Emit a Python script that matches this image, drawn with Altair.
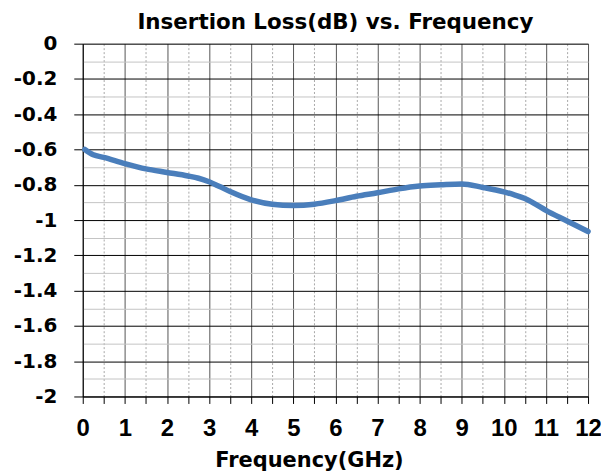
import altair as alt
import pandas as pd

freq = [0.05, 0.25, 0.5, 1.0, 1.5, 2.0, 2.5, 2.75, 3.0, 3.25, 3.5, 4.0, 4.5, 5.0, 5.5,
        6.0, 6.5, 7.0, 7.5, 8.0, 8.5, 9.0, 9.5, 10.0, 10.25, 10.5, 10.75, 11.0, 11.5, 12.0]
loss = [-0.60, -0.63, -0.645, -0.68, -0.71, -0.73, -0.75, -0.763, -0.783, -0.81, -0.838,
        -0.885, -0.91, -0.917, -0.91, -0.89, -0.865, -0.845, -0.823, -0.807,
        -0.80, -0.795, -0.815, -0.84, -0.857, -0.878, -0.91, -0.945, -1.005, -1.065]

x_ticks = [i * 0.5 for i in range(25)]
y_ticks = [round(-i * 0.1, 1) + 0.0 for i in range(21)]

df = pd.DataFrame({"freq": freq, "loss": loss})

x_major = "abs(round(datum.value * 2)) % 2 == 0"
y_major = "abs(round(datum.value * 10)) % 2 == 0"

x_axis = alt.Axis(
    values=x_ticks,
    labelExpr=f"{x_major} ? format(datum.value, 'd') : ''",
    labelFont="Liberation Sans", labelFontSize=24, labelFontWeight="bold",
    labelColor="black", labelPadding=13, labelAngle=0,
    labelFlush=False, labelOverlap=False,
    tickSize=7, tickColor="black", tickWidth=1,
    domainColor="black", domainWidth=1,
    grid=True,
    gridColor={"condition": {"test": x_major, "value": "#555555"}, "value": "#a8a8a8"},
    gridDash={"condition": {"test": x_major, "value": []}, "value": [2, 2]},
    gridWidth=1,
    title="Frequency(GHz)",
    titleFont="DejaVu Sans", titleFontSize=21, titleFontWeight="bold",
    titleColor="black", titleX=227, titleY=70, titleAlign="center",
    titleBaseline="alphabetic",
)

y_axis = alt.Axis(
    values=y_ticks,
    labelExpr=f"{y_major} ? replace(format(datum.value, '~g'), '\u2212', '-') : ''",
    labelFont="DejaVu Sans", labelFontSize=20, labelFontWeight="bold",
    labelColor="black", labelPadding=17,
    labelFlush=False, labelOverlap=False,
    tickSize=9, tickColor="black", tickWidth=1,
    tickOpacity={"condition": {"test": y_major, "value": 1}, "value": 0},
    domainColor="black", domainWidth=1,
    grid=True,
    gridColor={"condition": {"test": y_major, "value": "#000000"}, "value": "#c4c4c4"},
    gridWidth=1,
    title=None,
)

line = alt.Chart(df).mark_line(
    color="#4a7ebb", strokeWidth=5.5, strokeCap="round", interpolate="monotone"
).encode(
    x=alt.X("freq:Q", scale=alt.Scale(domain=[0, 12], nice=False, zero=False), axis=x_axis),
    y=alt.Y("loss:Q", scale=alt.Scale(domain=[-2, 0], nice=False, zero=False), axis=y_axis),
)

chart = line.properties(
    width=507,
    height=354,
    title=alt.TitleParams(
        "Insertion Loss(dB) vs. Frequency",
        font="DejaVu Sans", fontSize=21.5, fontWeight="bold", color="black",
        anchor="middle", offset=0,
    ),
    autosize=alt.AutoSizeParams(type="none"),
    padding={"left": 75, "top": 35, "right": 13, "bottom": 75},
).configure_view(stroke="#555555", strokeWidth=1).configure(background="white")

chart.save("out.html", embed_options={"renderer": "svg", "actions": False})
